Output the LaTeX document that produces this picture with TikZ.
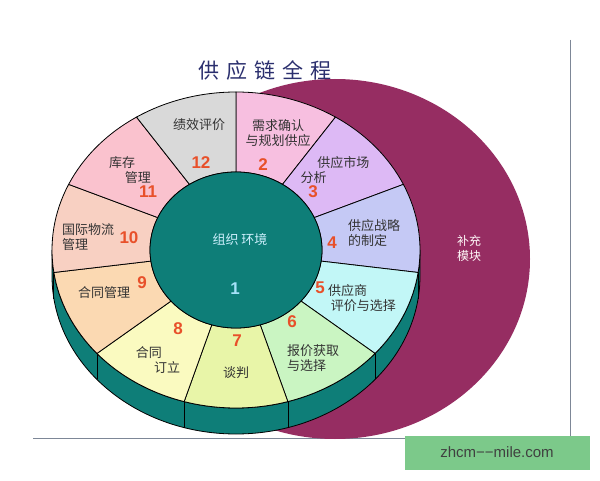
\documentclass[tikz,border=0pt]{standalone}
\usepackage{fontspec}
\newfontfamily\cjk{Noto Sans CJK SC}
\setsansfont{Liberation Sans}
\definecolor{teal1}{HTML}{0E7E78}
\definecolor{burg}{HTML}{962D62}
\definecolor{numc}{HTML}{E8502A}
\definecolor{navy}{HTML}{2B2F6E}
\definecolor{frm}{HTML}{7D8797}
\definecolor{wmc}{HTML}{7CC98A}
\begin{document}
\begin{tikzpicture}[x=1pt,y=1pt,
  lab/.style={font=\cjk\fontsize{13}{15}\selectfont, text=black!80, align=center, inner sep=0pt},
  num/.style={font=\sffamily\bfseries\fontsize{17}{17}\selectfont, text=numc, inner sep=0pt},
  segline/.style={draw=black, line width=0.8pt}]
\useasboundingbox (0,0) rectangle (600,480);
\fill[white] (0,0) rectangle (600,480);
% frame
\draw[frm, line width=0.8pt] (570,440) -- (570,42) -- (33,42);
% burgundy module
\fill[burg] (335,221) ellipse [x radius=195, y radius=180];
\node[font=\cjk\fontsize{12}{15}\selectfont, text=white!90!pink, align=center] (bc) at (469,232) {补充\\模块};
% wheel extrusion
\begin{scope}[shift={(236,230)}]
  \fill[teal1, draw=black, line width=0.8pt] (-184,0) -- (-184,-26) arc[start angle=180,end angle=360,x radius=184,y radius=158] -- (184,0) arc[start angle=0,end angle=-180,x radius=184,y radius=158] -- cycle;
  \foreach \a in {-8.2,-40.9,-73.6,-106.4,-139.1,-171.8}
    \draw[segline] (\a:184 and 158) -- ++(0,-26);
  % segments
  \foreach \s/\c [count=\i from 0] in {2/F7BFE0,3/DDB9F5,4/C5C9F5,5/C2F7F7,6/CAF5C2,7/E8F5A8,8/FAFAC0,9/FBD9B2,10/F8D0C2,11/FAC2CE,12/D9D9D9}{
    \pgfmathsetmacro\ta{90-\i*32.7273}
    \pgfmathsetmacro\tb{90-(\i+1)*32.7273}
    \definecolor{segc}{HTML}{\c}
    \filldraw[fill=segc, segline] (\ta:86 and 78) -- (\ta:184 and 158) arc[start angle=\ta,end angle=\tb,x radius=184,y radius=158] -- (\tb:86 and 78) arc[start angle=\tb,end angle=\ta,x radius=86,y radius=78] -- cycle;
  }
  \filldraw[fill=teal1, segline] (0,0) ellipse [x radius=86, y radius=78];
\end{scope}
% title
\node[font=\cjk\fontsize{21}{21}\selectfont, text=navy] (title) at (265,410) {供\,\,应\,\,链\,\,全\,\,程};
% labels
\node[lab] (l1) at (240,240) {\textcolor{cyan!20}{组织 环境}};
\node[num, text=cyan!35] (n1) at (235,191) {1};
\node[lab] (l12) at (199,355) {绩效评价};
\node[num] (n12) at (201,317) {12};
\node[lab] (l2) at (278,347) {需求确认\\与规划供应};
\node[num] (n2) at (263,315) {2};
\node[lab, align=left] (l3) at (335,310) {\hspace*{1.3em}供应市场\\分析};
\node[num] (n3) at (313,288) {3};
\node[lab, align=left] (l4) at (374,247) {供应战略\\的制定};
\node[num] (n4) at (332,237) {4};
\node[lab, align=left] (l5) at (362,182) {供应商\\\hspace*{0.2em}评价与选择};
\node[num] (n5) at (320,192) {5};
\node[lab, align=left] (l6) at (313,122) {报价获取\\与选择};
\node[num] (n6) at (292,158) {6};
\node[lab] (l7) at (236,107) {谈判};
\node[num] (n7) at (237,139) {7};
\node[lab, align=left] (l8) at (158,120) {合同\\\hspace*{1.4em}订立};
\node[num] (n8) at (178,151) {8};
\node[lab] (l9) at (104,187) {合同管理};
\node[num] (n9) at (142,197) {9};
\node[lab, align=left] (l10) at (88,243) {国际物流\\管理};
\node[num] (n10) at (129,242) {10};
\node[lab, align=left] (l11) at (130,310) {库存\\\hspace*{1.2em}管理};
\node[num] (n11) at (148,288) {11};
% watermark
\fill[wmc] (405,10) rectangle (590,44);
\node[font=\sffamily\fontsize{15}{15}\selectfont, text=black!75] (wm) at (497,28) {zhcm−−mile.com};
\end{tikzpicture}
\end{document}
